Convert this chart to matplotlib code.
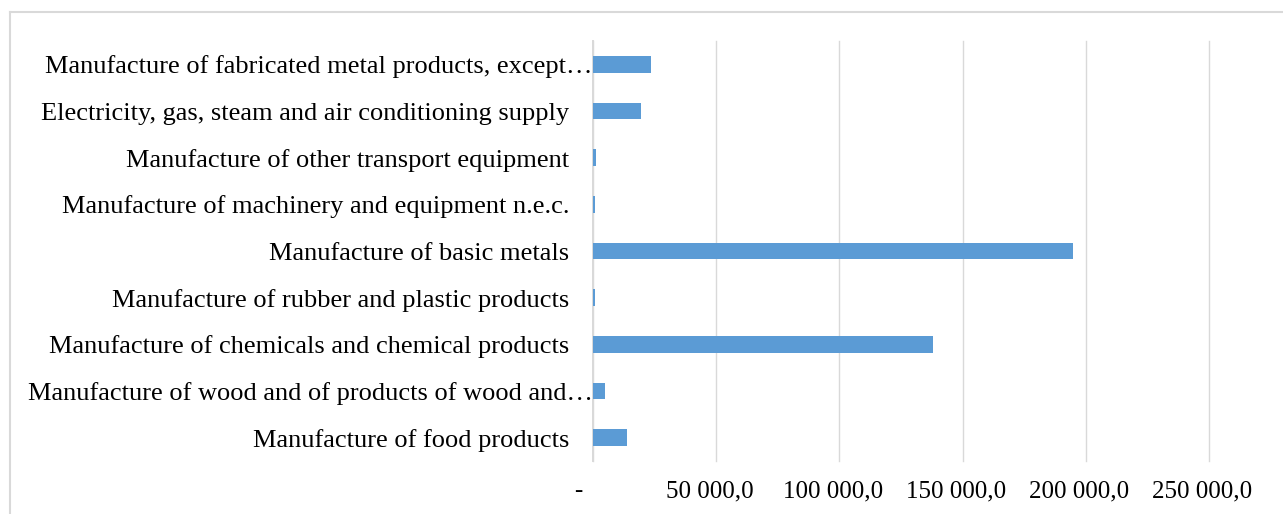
import matplotlib
matplotlib.use("Agg")
import matplotlib.pyplot as plt
from matplotlib.lines import Line2D
from matplotlib.transforms import ScaledTranslation

categories = [
    "Manufacture of food products",
    "Manufacture of wood and of products of wood and…",
    "Manufacture of chemicals and chemical products",
    "Manufacture of rubber and plastic products",
    "Manufacture of basic metals",
    "Manufacture of machinery and equipment n.e.c.",
    "Manufacture of other transport equipment",
    "Electricity, gas, steam and air conditioning supply",
    "Manufacture of fabricated metal products, except…",
]
values = [13800, 4800, 138100, 800, 194800, 800, 1100, 19600, 23500]
xticks = [0, 50000, 100000, 150000, 200000, 250000]
xtick_labels = ["-", "50 000,0", "100 000,0", "150 000,0", "200 000,0", "250 000,0"]

W, H = 1283, 514
DPI = 100
plt.rcParams['font.family'] = ['Liberation Serif', 'DejaVu Serif']

fig = plt.figure(figsize=(W / DPI, H / DPI), dpi=DPI)
fig.patch.set_facecolor('white')

left, right, top, bottom = 593, 1209, 41, 461
ax = fig.add_axes([left / W, (H - bottom) / H, (right - left) / W, (bottom - top) / H])

y = list(range(len(categories)))
ax.barh(y, values, height=0.357, color='#5B9BD5', zorder=3)
ax.set_ylim(-0.5, len(categories) - 0.5)
ax.set_xlim(0, 250000)

ax.set_xticks(xticks)
ax.set_xticklabels(xtick_labels, fontsize=18, color='black')
ax.set_yticks(y)
ax.set_yticklabels(categories, fontsize=19, color='black')
ax.tick_params(axis='both', length=0)
ax.tick_params(axis='y', pad=17)
ax.tick_params(axis='x', pad=14)

ax.grid(axis='x', color='#D9D9D9', linewidth=1.0, zorder=0)
ax.set_axisbelow(True)
for gl in ax.get_xgridlines():
    gl.set_clip_on(False)
for s in ['top', 'right', 'bottom']:
    ax.spines[s].set_visible(False)
ax.spines['left'].set_color('#D9D9D9')
ax.spines['left'].set_linewidth(1.4)
ax.spines['left'].set_zorder(2)

# shift x tick labels slightly left (accounting format padding)
for i, lab in enumerate(ax.get_xticklabels()):
    dx = -14.5 if i == 0 else -6.5
    lab.set_transform(lab.get_transform() + ScaledTranslation(dx / DPI, 0, fig.dpi_scale_trans))

# truncated labels extend further right
for lab in ax.get_yticklabels():
    if lab.get_text().endswith('…'):
        lab.set_transform(lab.get_transform() + ScaledTranslation(23 / DPI, 0, fig.dpi_scale_trans))

# chart area frame (left and top edges visible)
fx, fy = 9.5 / W, (H - 11.5) / H
fig.add_artist(Line2D([fx, fx], [fy, -0.1], color='#D9D9D9', linewidth=1.5, transform=fig.transFigure))
fig.add_artist(Line2D([fx, 1.1], [fy, fy], color='#D9D9D9', linewidth=1.5, transform=fig.transFigure))

fig.savefig('out.png', dpi=DPI)
